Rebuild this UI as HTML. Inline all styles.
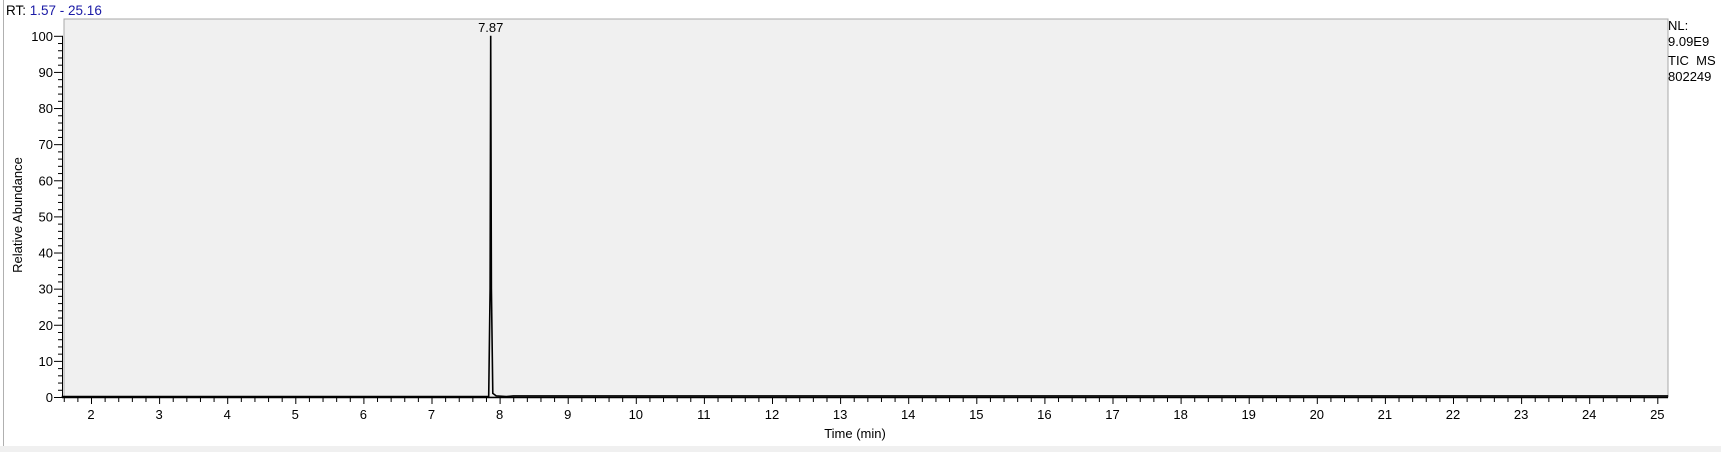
<!DOCTYPE html>
<html><head><meta charset="utf-8"><style>
html,body{margin:0;padding:0;background:#fff;width:1721px;height:452px;overflow:hidden}
svg{display:block;font-family:"Liberation Sans",Arial,sans-serif}
</style></head><body>
<svg id="chart" width="1721" height="452">
<rect x="0" y="446" width="1721" height="6" fill="#f0f0f0"/>
<line x1="3.5" y1="0" x2="3.5" y2="446" stroke="#b0b0b0"/>
<text x="6" y="15" font-size="13.5"><tspan fill="#000">RT: </tspan><tspan fill="#1a1aa6">1.57 - 25.16</tspan></text>
<rect x="64" y="19" width="1604" height="378" fill="#f0f0f0" stroke="#a8a8a8"/>
<g id="yaxis"></g>
<g id="xaxis"></g>
<text transform="translate(22,215) rotate(-90)" text-anchor="middle" font-size="13">Relative Abundance</text>
<text x="855" y="438" text-anchor="middle" font-size="13">Time (min)</text>
<g font-size="13">
<text x="1668" y="30">NL:</text><text x="1668" y="46">9.09E9</text>
<text x="1668" y="65">TIC&#160;&#160;MS</text><text x="1668" y="81">802249</text></g>
<g id="series"></g>
</svg>
<script>
const times=[1.57,7.84,7.86,7.87,7.88,7.90,7.95,8.1,8.2,8.3,10,15,20,25.16];
const intensities=[0.1,0.1,30,100,30,1.0,0.3,0.1,0.3,0.3,0.3,0.3,0.3,0.3];
const peakTimes=[7.87];
const peakLabels=["7.87"];
const yTicks=[0,10,20,30,40,50,60,70,80,90,100];
const xTicks=[2,3,4,5,6,7,8,9,10,11,12,13,14,15,16,17,18,19,20,21,22,23,24,25];
const NS='http://www.w3.org/2000/svg';
const xs=t=>91+(t-2)*68.1;
const ys=v=>397-v*3.612;
function mk(tag,attrs,parent){const e=document.createElementNS(NS,tag);for(const k in attrs)e.setAttribute(k,attrs[k]);parent.appendChild(e);return e;}
const ya=document.getElementById('yaxis'),xa=document.getElementById('xaxis'),sr=document.getElementById('series');
mk('line',{x1:62.5,y1:ys(100),x2:62.5,y2:398,stroke:'#000'},ya);
for(let v=0;v<=100;v+=2){const major=v%10===0;mk('line',{x1:major?54:58,y1:ys(v)+0.5,x2:62,y2:ys(v)+0.5,stroke:'#000'},ya);}
yTicks.forEach(v=>{const t=mk('text',{x:53,y:ys(v)+5,'text-anchor':'end','font-size':'13'},ya);t.textContent=v;

});
mk('line',{x1:62,y1:397.5,x2:1668,y2:397.5,stroke:'#000','stroke-width':1.5},xa);
for(let t=1.6;t<=25.16;t+=0.2){const tt=Math.round(t*10)/10;const major=Math.abs(tt-Math.round(tt))<0.01;mk('line',{x1:xs(tt)+0.5,y1:398,x2:xs(tt)+0.5,y2:major?404:402,stroke:'#000'},xa);}
xTicks.forEach(v=>{const t=mk('text',{x:xs(v),y:419,'text-anchor':'middle','font-size':'13'},xa);t.textContent=v;

});
const pts=times.map((t,i)=>xs(t).toFixed(1)+','+ys(intensities[i]).toFixed(1)).join(' ');
const pl=mk('polyline',{points:pts,fill:'none',stroke:'#000','stroke-width':1.6},sr);


peakTimes.forEach((p,i)=>{const t=mk('text',{x:xs(p),y:ys(100)-4,'text-anchor':'middle','font-size':'13'},sr);t.textContent=peakLabels[i];

});
</script>
</body></html>
